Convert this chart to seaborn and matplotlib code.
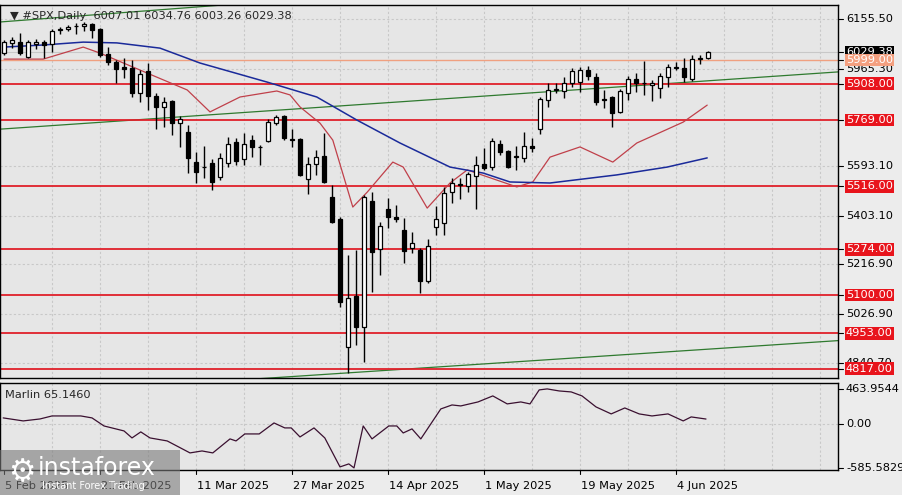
import numpy as np
import pandas as pd
import matplotlib
matplotlib.use("Agg")
import matplotlib.pyplot as plt
import seaborn as sns

# ---------------- data ----------------
opens = [6025,6064,6067,6010,6060,6067,6060,6113,6117,6129,6129,6136,6117,6021,5991,5972,5968,5872,5956,5861,
         5819,5842,5757,5723,5608,5589,5604,5551,5604,5685,5620,5692,5666,5689,5757,5784,5693,5696,5543,5601,
         5631,5474,5390,4900,5095,4977,5459,5275,5428,5398,5348,5279,5272,5153,5360,5375,5493,5520,5516,5555,
         5601,5589,5677,5650,5627,5623,5669,5734,5845,5884,5880,5910,5914,5960,5933,5846,5857,5800,5872,5926,
         5910,5903,5891,5933,5968,5968,5926,6002,6007.01]
highs = [6075,6086,6102,6075,6079,6075,6117,6125,6132,6140,6144,6140,6121,6048,5998,6006,5998,5960,5987,5872,
         5857,5846,5784,5750,5646,5669,5620,5643,5704,5700,5719,5712,5673,5773,5788,5788,5734,5700,5627,5654,
         5719,5520,5398,5252,5272,5482,5493,5379,5470,5444,5394,5340,5279,5314,5440,5513,5547,5547,5570,5631,
         5662,5700,5692,5654,5669,5723,5700,5857,5910,5910,5933,5968,5972,5975,5949,5884,5861,5888,5937,5949,
         5995,5922,5949,5983,5991,6006,6018,6018,6034.76]
lows = [6018,6044,6018,6006,6041,6006,6029,6098,6109,6098,6109,6083,6010,5979,5910,5930,5857,5838,5807,5735,
        5742,5711,5666,5566,5528,5547,5501,5539,5589,5597,5597,5627,5597,5685,5750,5692,5666,5555,5486,5558,
        5528,5375,5053,4801,4908,4843,5111,5176,5356,5379,5222,5260,5107,5145,5329,5329,5451,5467,5493,5428,
        5578,5578,5635,5585,5578,5608,5646,5715,5819,5872,5853,5895,5876,5922,5826,5815,5742,5796,5845,5876,
        5865,5842,5853,5895,5960,5914,5918,5983,6003.26]
closes = [6067,6075,6025,6067,6067,6056,6109,6113,6125,6128,6136,6113,6018,5991,5964,5964,5872,5945,5861,5819,
          5838,5757,5773,5623,5570,5588,5532,5623,5677,5612,5677,5666,5665,5761,5780,5700,5692,5558,5601,5627,
          5532,5379,5073,5088,4977,5474,5264,5363,5398,5390,5268,5298,5153,5287,5390,5490,5528,5520,5562,5597,
          5585,5689,5646,5589,5627,5669,5662,5849,5884,5886,5910,5956,5960,5937,5838,5845,5796,5880,5926,5910,
          5912,5910,5937,5972,5970,5933,6002,6004,6029.38]

red_ma_idx = [0,4.9,9.9,12,19.1,22.9,25.75,29.5,34.1,35.75,37,39.5,41.1,43.6,45.4,48.6,49.9,52.9,55.75,57.9,
              64.1,66.1,68.25,72,76.1,79.1,84.9,87.9]
red_ma_val = [6002,6002,6048,6025,5933,5884,5800,5857,5880,5865,5819,5757,5692,5436,5493,5608,5589,5432,5528,5578,
              5513,5532,5627,5666,5608,5681,5761,5826]
blue_ma_idx = [0,4.9,9.9,14.1,19.5,24.5,32.9,39.1,44.1,49.5,55.75,59.9,63.25,68.25,76.6,82.9,87.9]
blue_ma_val = [6048,6056,6067,6064,6044,5987,5914,5857,5769,5681,5589,5566,5532,5528,5559,5589,5624]

marlin_idx = [-0.1,2.4,4.5,6,9.6,11,12.5,15,16,17.1,18.25,20.4,23.25,24.75,26.1,28.25,29,30.1,31.9,33.75,
              35.1,35.9,37,38.75,40.1,42,43.1,43.75,44.9,46,48.1,49.1,49.9,51,52.1,54.6,56,57.1,59.25,61.1,
              62.9,64.6,65.75,66.9,67.9,69.4,70.9,72.25,74,75.9,77.6,79.4,81,83,84.9,85.9,87.75]
marlin_val = [80,40,66,106,106,80,-27,-93,-186,-106,-186,-226,-385,-359,-385,-199,-226,-133,-133,13,
              -53,-53,-173,-53,-186,-571,-531,-584,-27,-199,-27,-27,-120,-66,-199,199,252,239,292,372,
              266,292,266,452,465,438,425,372,226,133,212,133,106,133,40,93,65]

levels = [5908, 5769, 5516, 5274, 5100, 4953, 4817]
level_labels = ["5908.00", "5769.00", "5516.00", "5274.00", "5100.00", "4953.00", "4817.00"]
soft_level, soft_label = 5999, "5999.00"
last_price, last_label = 6029.38, "6029.38"
ytick_vals = [6155.50, 5965.30, 5593.10, 5403.10, 5216.90, 5026.90, 4840.70]
ytick_labels = ["6155.50", "5965.30", "5593.10", "5403.10", "5216.90", "5026.90", "4840.70"]
date_idx = [0, 12, 24, 36, 48, 60, 72, 84]
date_labels = ["5 Feb 2025", "21 Feb 2025", "11 Mar 2025", "27 Mar 2025", "14 Apr 2025",
               "1 May 2025", "19 May 2025", "4 Jun 2025"]
green_up = ([-0.5, 104.25], [5734, 5953])
green_low = ([-0.5, 104.25], [4714, 4925])
green_top = ([-0.5, 32.5], [6144, 6221])
title = "#SPX,Daily  6007.01 6034.76 6003.26 6029.38"
marlin_title = "Marlin 65.1460"
marlin_ticks = [463.9544, 0.0, -585.5829]
marlin_tick_labels = ["463.9544", "0.00", "-585.5829"]

# ---------------- figure ----------------
sns.set_theme(style="white")
plt.rcParams['font.family'] = ['DejaVu Sans']
W, H = 903, 495
fig = plt.figure(figsize=(W / 100, H / 100), dpi=100, facecolor="#ececec")
ax = fig.add_axes([0 / W, 1 - 378 / H, 838 / W, 373 / H])
ax2 = fig.add_axes([0 / W, 1 - 470 / H, 838 / W, 87 / H])
bg = "#e6e6e6"
for a in (ax, ax2):
    a.set_facecolor(bg)
    for s in a.spines.values():
        s.set_color("black"); s.set_linewidth(1.0)

xmin, xmax = -0.5, 104.25
ymin, ymax = 4782, 6209
ax.set_xlim(xmin, xmax); ax.set_ylim(ymin, ymax)
ax2.set_xlim(xmin, xmax); ax2.set_ylim(-612, 543.6)

grid_kw = dict(color="#c8c8c8", lw=0.8, ls=(0, (2, 2)), zorder=0)
for gx in np.arange(6, 105, 6):
    ax.axvline(gx, **grid_kw); ax2.axvline(gx, **grid_kw)
for v in ytick_vals:
    ax.axhline(v, **grid_kw)
ax2.axhline(0, **grid_kw)

# trend lines
ax.plot(*green_up, color="#2f7a2f", lw=0.9, zorder=2)
ax.plot(*green_low, color="#2f7a2f", lw=0.9, zorder=2)
ax.plot(*green_top, color="#2f7a2f", lw=0.9, zorder=2)

# levels
for lv in levels:
    ax.axhline(lv, color="#e0202a", lw=1.3, zorder=2)
ax.axhline(soft_level, color="#f0a080", lw=1.0, zorder=2)
ax.axhline(last_price, color="#c8c8c8", lw=0.8, zorder=1)

# moving averages
sns.lineplot(x=red_ma_idx, y=red_ma_val, ax=ax, color="#c0404a", lw=0.9, zorder=3)
sns.lineplot(x=blue_ma_idx, y=blue_ma_val, ax=ax, color="#1a2a9a", lw=1.1, zorder=3)

# candles
df = pd.DataFrame(dict(o=opens, h=highs, l=lows, c=closes))
df["i"] = np.arange(len(df))
ax.vlines(df.i, df.l, df.h, color="black", lw=1.0, zorder=4)
for _, r in df.iterrows():
    lo, hi = min(r.o, r.c), max(r.o, r.c)
    hgt = max(hi - lo, 2.5)
    fc = "white" if r.c >= r.o else "black"
    ax.bar(r.i, hgt, bottom=lo, width=0.6, color=fc, edgecolor="black", lw=0.9, zorder=5)

# Marlin
sns.lineplot(x=marlin_idx, y=marlin_val, ax=ax2, color="#3a1030", lw=0.9)

for a in (ax, ax2):
    a.set_xticks([]); a.set_yticks([])
    a.set_xlabel(""); a.set_ylabel("")

# right axis labels
def ylab(axis, v, text, fc=None, tc="black", z=5):
    axis.plot([xmax, xmax + 0.6], [v, v], color="black", lw=0.8, clip_on=False)
    kw = dict(fontsize=8.2, va="center", ha="left", color=tc, clip_on=False, zorder=z)
    if fc:
        kw["bbox"] = dict(boxstyle="square,pad=0.12", fc=fc, ec="none")
    axis.text(xmax + 1.0, v, text, **kw)

for v, t in zip(ytick_vals, ytick_labels):
    ylab(ax, v, t, z=5)
ylab(ax, last_price, last_label, fc="black", tc="white", z=6)
ylab(ax, soft_level, soft_label, fc="#f4a080", tc="white", z=7)
for v, t in zip(levels, level_labels):
    ylab(ax, v, t, fc="#e8141c", tc="white", z=8)
for v, t in zip(marlin_ticks, marlin_tick_labels):
    ylab(ax2, v, t)

ax.text(0.012, 0.985, "\u25bc " + title, transform=ax.transAxes, fontsize=8.2, va="top", ha="left")
ax2.text(0.006, 0.92, marlin_title, transform=ax2.transAxes, fontsize=8.2, va="top", ha="left")

# date labels
for i, t in zip(date_idx, date_labels):
    ax2.plot([i, i], [-612, -660], color="black", lw=0.8, clip_on=False)
    ax2.text(i + 0.1, -760, t, fontsize=8.2, va="top", ha="left", clip_on=False, color="black")

# watermark
fig.patches.append(matplotlib.patches.Rectangle((0, 0), 180 / W, 45 / H, transform=fig.transFigure,
                                                fc="#7a7a7a", alpha=0.6, ec="none", zorder=10))
fig.text(8 / W, 22 / H, "\u2699", fontsize=22, color="white", va="center", ha="left", zorder=11)
fig.text(38 / W, 27 / H, "instaforex", fontsize=17, color="white", va="center", ha="left", zorder=11)
fig.text(42 / W, 9 / H, "Instant Forex Trading", fontsize=7, color="white", va="center", ha="left", zorder=11)

fig.savefig("out.png", dpi=100, facecolor=fig.get_facecolor())
